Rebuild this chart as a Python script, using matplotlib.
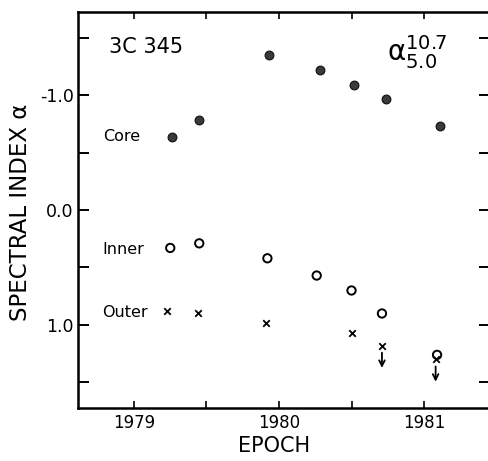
import matplotlib
matplotlib.use("Agg")
import matplotlib.pyplot as plt
from matplotlib.transforms import offset_copy

# ---- data ----
core_epoch = [1979.26, 1979.45, 1979.93, 1980.28, 1980.52, 1980.74, 1981.11]
core_alpha = [-0.635, -0.78, -1.35, -1.22, -1.09, -0.965, -0.73]

inner_epoch = [1979.25, 1979.45, 1979.92, 1980.26, 1980.50, 1980.71, 1981.09]
inner_alpha = [0.33, 0.29, 0.42, 0.57, 0.70, 0.90, 1.26]

outer_epoch = [1979.23, 1979.44, 1979.91, 1980.50, 1980.71, 1981.08]
outer_alpha = [0.88, 0.90, 0.98, 1.07, 1.18, 1.30]
outer_upper_limit = [False, False, False, False, True, True]

xticks_major = [1979, 1980, 1981]
xtick_labels = ["1979", "1980", "1981"]
xticks_minor = [1979.5, 1980.5]
yticks_major = [-1.0, 0.0, 1.0]
ytick_labels = ["-1.0", "0.0", "1.0"]
yticks_minor = [-1.5, -0.5, 0.5, 1.5]

W, H = 488, 461
fig = plt.figure(figsize=(W / 100, H / 100), dpi=100)
ax = fig.add_axes([78 / W, 53 / H, 412 / W, 396 / H])

ax.set_xlim(1978.614, 1981.455)
ax.set_ylim(1.722, -1.722)

ax.scatter(core_epoch, core_alpha, s=40, facecolor="#3a3a3a", edgecolor="#111111",
           linewidths=0.8, zorder=3)
ax.scatter(inner_epoch, inner_alpha, s=36, facecolor="none", edgecolor="black",
           linewidths=1.4, zorder=3)
ax.scatter(outer_epoch, outer_alpha, s=22, marker="x", color="black",
           linewidths=1.3, zorder=3)

for x, y, lim in zip(outer_epoch, outer_alpha, outer_upper_limit):
    if lim:
        head = offset_copy(ax.transData, fig=fig, x=0, y=-16, units="points")
        tail = offset_copy(ax.transData, fig=fig, x=0, y=-5, units="points")
        ax.annotate("", xy=(x, y), xycoords=head, xytext=(x, y), textcoords=tail,
                    arrowprops=dict(arrowstyle="->", lw=1.3, color="black",
                                    mutation_scale=10, shrinkA=0, shrinkB=0))

# ticks
ax.set_xticks(xticks_major)
ax.set_xticklabels(xtick_labels)
ax.set_xticks(xticks_minor, minor=True)
ax.set_yticks(yticks_major)
ax.set_yticklabels(ytick_labels)
ax.set_yticks(yticks_minor, minor=True)

ax.tick_params(axis="x", which="both", direction="in", length=5, width=1.2,
               top=True, bottom=True, labelsize=12, pad=4)
ax.tick_params(axis="y", which="both", direction="in", length=8, width=1.4,
               left=True, right=True, labelsize=12.5, pad=3)

for sp in ax.spines.values():
    sp.set_linewidth(1.8)
ax.spines["right"].set_visible(False)

# annotations
ax.text(1978.83, -1.42, "3C 345", fontsize=15, va="center", ha="left")
ax.text(1980.745, -1.37, r"$\mathregular{α^{10.7}_{5.0}}$", fontsize=20,
        va="center", ha="left")
ax.text(1978.79, -0.635, "Core", fontsize=11.5, va="center", ha="left")
ax.text(1978.78, 0.34, "Inner", fontsize=11.5, va="center", ha="left")
ax.text(1978.78, 0.89, "Outer", fontsize=11.5, va="center", ha="left")

fig.text(21 / W, 1 - 212 / H, "SPECTRAL INDEX α", rotation=90, fontsize=16.5,
         ha="center", va="center")
fig.text(274 / W, 1 - 446 / H, "EPOCH", fontsize=15, ha="center", va="center")

fig.savefig("out.png", dpi=100)
